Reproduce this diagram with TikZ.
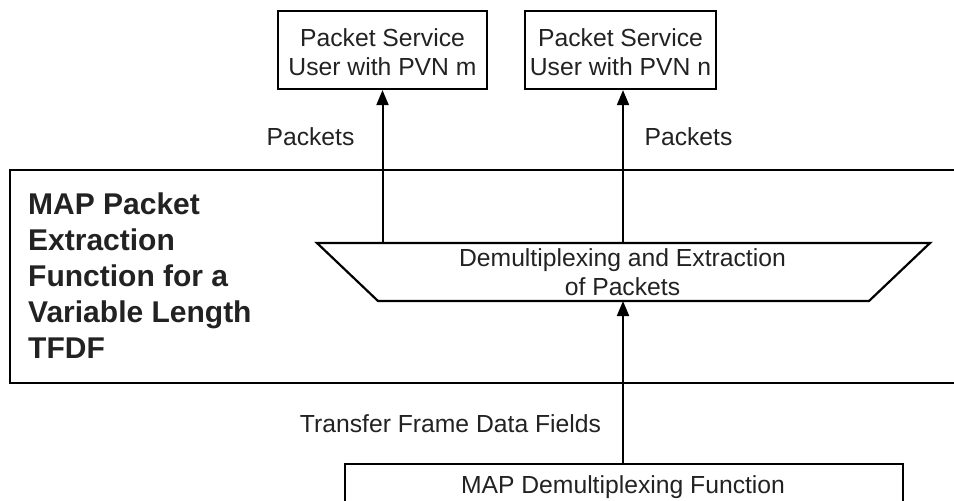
\documentclass[tikz,border=0pt]{standalone}
\usepackage{fontspec}
\setmainfont{Liberation Sans}
\usetikzlibrary{arrows.meta}
\definecolor{txt}{HTML}{222222}
\tikzset{
  box/.style={draw, line width=2.2pt, inner sep=0pt},
  lbl/.style={inner sep=0pt, text=txt, font=\fontsize{24.7}{28.5}\selectfont, align=center},
  arr/.style={line width=2pt, -{Triangle[length=15pt,width=12pt]}},
}
\begin{document}
\begin{tikzpicture}[x=1pt,y=-1pt]
\useasboundingbox (0,0) rectangle (954,501);
% top boxes
\node[box, minimum width=209pt, minimum height=78pt] (um) at (382.5,50) {};
\node[lbl, anchor=base] (umt) at (382.5,75) {Packet Service\\User with PVN m};
\node[box, minimum width=191pt, minimum height=78pt] (un) at (620.5,50) {};
\node[lbl, anchor=base] (unt) at (620.5,75) {Packet Service\\User with PVN n};
% packets labels
\node[lbl, anchor=base] (pm) at (310.5,145) {Packets};
\node[lbl, anchor=base] (pn) at (688.5,145) {Packets};
% big rectangle (open to the right)
\draw[line width=2.2pt] (960,170) coordinate (bigtr) -- (10,170) -- (10,383) -- (960,383);
\node[inner sep=0pt, anchor=base west, align=left, text=txt, font=\fontsize{30}{36}\selectfont\bfseries] (title) at (28,358) {MAP Packet\\Extraction\\Function for a\\Variable Length\\TFDF};
% trapezoid
\coordinate (tl) at (317,243);
\coordinate (tr) at (930,243);
\coordinate (br) at (869,301);
\coordinate (bl) at (378,301);
\draw[line width=2.2pt, line join=miter] (tl) -- (tr) -- (br) -- (bl) -- cycle;
\node[lbl, anchor=base] (demux) at (622.5,295) {Demultiplexing and Extraction\\of Packets};
% bottom box (cut by page edge)
\draw[line width=2.2pt] (345,510) -- (345,464) coordinate (bbl) -- (903,464) coordinate (bbr) -- (903,510);
\coordinate (bbin) at (623,464);
\node[lbl, anchor=base] (mdf) at (623,493) {MAP Demultiplexing Function};
\node[lbl, anchor=base] (tfdf) at (450.5,432) {Transfer Frame Data Fields};
% arrows
\draw[arr] (um.south |- tl) -- (um.south);
\draw[arr] (623,243) -- (un.south -| 623,0);
\draw[arr] (bbin) -- (bbin |- bl);
\end{tikzpicture}
\end{document}
